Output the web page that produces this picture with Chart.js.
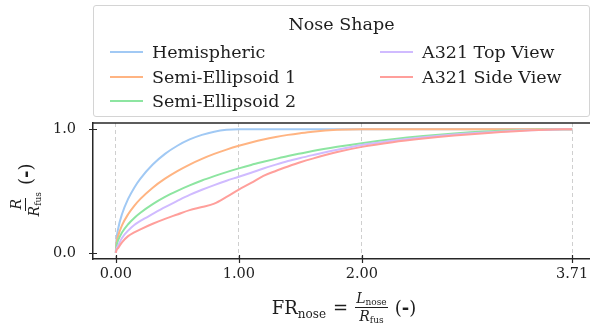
<!DOCTYPE html>
<html>
<head>
<meta charset="utf-8">
<script src="https://cdn.jsdelivr.net/npm/chart.js@4.4.0/dist/chart.umd.min.js"></script>
<style>
  html, body { margin: 0; padding: 0; background: #fff; overflow: hidden; width: 590px; height: 330px; }
  #wrap { position: relative; width: 600px; height: 330px; }
  #plot { position: absolute; left: 0; top: 0; }
  .serif { font-family: "DejaVu Serif", serif; color: #1e1e1e; }
  #legendBox { position: absolute; left: 93px; top: 5px; width: 497px; height: 112px; box-sizing: border-box;
               border: 1.5px solid #d4d4d4; border-radius: 3px; background: #fff; }
  #legendTitle { position: absolute; left: 93px; width: 497px; top: 12px; text-align: center; font-size: 17.5px; line-height: 24px; white-space: nowrap; }
  .item { position: absolute; height: 24px; line-height: 24px; font-size: 17.5px; white-space: nowrap; }
  .item .swatch { position: absolute; left: 0; top: 11px; width: 33px; height: 2px; }
  .item .txt { position: absolute; left: 42px; top: 0; }
  .frac { display: inline-flex; flex-direction: column; align-items: center; vertical-align: middle; font-size: 14px; line-height: 15px; }
  .frac .num { padding: 0 1px 1px 1px; border-bottom: 1px solid #1e1e1e; }
  .frac .den { padding-top: 1px; }
  .frac sub { font-size: 9px; vertical-align: -2px; line-height: 0; }
  #xTitle { position: absolute; left: 194px; width: 300px; top: 291px; height: 32px; display: flex; justify-content: center; align-items: center; font-size: 18px; white-space: nowrap; }
  #xTitle .big sub { font-size: 12px; vertical-align: -4px; line-height: 0; }
  #yTitle { position: absolute; left: -45px; top: 170px; width: 140px; height: 40px; display: flex; justify-content: center; align-items: center;
            font-size: 18px; white-space: nowrap; transform: rotate(-90deg); transform-origin: 50% 50%; }
  .sp { display: inline-block; width: 7px; }
</style>
</head>
<body>
<div id="wrap">
  <canvas id="plot" width="600" height="330"></canvas>
  <div id="legendBox"></div>
  <div id="legendTitle" class="serif">Nose Shape</div>
  <div id="legendItems"></div>
  <div id="xTitle" class="serif">
    <span class="big">FR<sub>nose</sub></span><span class="sp"></span>=<span class="sp"></span>
    <span class="frac"><span class="num"><i>L</i><sub>nose</sub></span><span class="den"><i>R</i><sub>fus</sub></span></span>
    <span class="sp"></span>(<b>-</b>)
  </div>
  <div id="yTitle" class="serif">
    <span class="frac"><span class="num"><i>R</i></span><span class="den"><i>R</i><sub>fus</sub></span></span>
    <span class="sp"></span>(<b>-</b>)
  </div>
</div>
<script>
// Nose fineness ratio FR = L_nose / R_fus (x positions of the profile samples)
const noseRatio = [0, 0.005, 0.02, 0.05, 0.1, 0.15, 0.2, 0.3, 0.4, 0.5,
                   0.6, 0.7, 0.8, 0.9, 1.0, 1.1, 1.2, 1.3, 1.4, 1.5,
                   1.6, 1.8, 2.0, 2.25, 2.5, 2.75, 3.0, 3.25, 3.5, 3.71];

// Local radius R / R_fus for each nose shape
const hemispheric = [0, 0.100, 0.199, 0.312, 0.436, 0.527, 0.600, 0.714, 0.800, 0.866,
                     0.917, 0.954, 0.980, 0.995, 1, 1, 1, 1, 1, 1,
                     1, 1, 1, 1, 1, 1, 1, 1, 1, 1];
const semiEllipsoid1 = [0, 0.071, 0.141, 0.222, 0.312, 0.380, 0.436, 0.527, 0.600, 0.661,
                        0.714, 0.760, 0.800, 0.835, 0.866, 0.893, 0.917, 0.937, 0.954, 0.968,
                        0.980, 0.995, 1, 1, 1, 1, 1, 1, 1, 1];
const semiEllipsoid2 = [0, 0.052, 0.104, 0.164, 0.231, 0.282, 0.324, 0.394, 0.452, 0.501,
                        0.545, 0.585, 0.620, 0.653, 0.683, 0.711, 0.736, 0.760, 0.783, 0.803,
                        0.823, 0.857, 0.887, 0.919, 0.945, 0.966, 0.982, 0.992, 0.998, 1.0];
const a321TopView = [0, 0.030, 0.060, 0.120, 0.180, 0.225, 0.258, 0.315, 0.370, 0.420,
                     0.468, 0.510, 0.548, 0.583, 0.615, 0.648, 0.682, 0.713, 0.742, 0.767,
                     0.790, 0.834, 0.872, 0.906, 0.934, 0.957, 0.974, 0.987, 0.996, 1.0];
const a321SideView = [0, 0.020, 0.040, 0.085, 0.135, 0.165, 0.190, 0.235, 0.275, 0.310,
                      0.345, 0.370, 0.398, 0.452, 0.512, 0.565, 0.622, 0.662, 0.698, 0.732,
                      0.762, 0.815, 0.857, 0.895, 0.924, 0.948, 0.968, 0.984, 0.995, 1.0];

const seriesNames = ['Hemispheric', 'Semi-Ellipsoid 1', 'Semi-Ellipsoid 2', 'A321 Top View', 'A321 Side View'];
const seriesValues = [hemispheric, semiEllipsoid1, semiEllipsoid2, a321TopView, a321SideView];
const seriesColors = ['#a1c9f4', '#ffb482', '#8de5a1', '#d0bbff', '#ff9f9b'];

const xTickValues = [0, 1, 2, 3.71];
const yTickValues = [0, 1];

const X_MIN = -0.1855, X_MAX = 3.8955;
const Y_MIN = -0.05, Y_MAX = 1.05;
const FONT = '"DejaVu Serif", serif';
const SPINE = '#262626';

// top spine and in/out tick marks
const framePlugin = {
  id: 'frame',
  afterDraw(chart) {
    const { ctx, chartArea: a, scales: { x, y } } = chart;
    ctx.save();
    ctx.setLineDash([]);
    ctx.strokeStyle = SPINE;
    ctx.lineWidth = 1.5;
    ctx.beginPath();
    ctx.moveTo(a.left - 0.75, a.top);
    ctx.lineTo(a.right + 10, a.top);
    ctx.stroke();
    ctx.lineWidth = 1.2;
    ctx.beginPath();
    xTickValues.forEach(v => {
      const px = Math.round(x.getPixelForValue(v)) + 0.5;
      ctx.moveTo(px, a.bottom - 4);
      ctx.lineTo(px, a.bottom + 4);
    });
    yTickValues.forEach(v => {
      const py = Math.round(y.getPixelForValue(v)) + 0.5;
      ctx.moveTo(a.left - 4, py);
      ctx.lineTo(a.left + 4, py);
    });
    ctx.stroke();
    ctx.restore();
  }
};

const chart = new Chart(document.getElementById('plot'), {
  type: 'line',
  data: {
    datasets: seriesNames.map((name, i) => ({
      label: name,
      data: noseRatio.map((fr, k) => ({ x: fr, y: seriesValues[i][k] })),
      borderColor: seriesColors[i],
      backgroundColor: seriesColors[i],
      borderWidth: 2,
      pointRadius: 0,
      fill: false,
      cubicInterpolationMode: 'monotone',
      order: seriesNames.length - 1 - i
    }))
  },
  options: {
    responsive: false,
    animation: false,
    devicePixelRatio: 1,
    layout: { padding: { top: 123, right: 5, left: 0, bottom: 0 } },
    plugins: { legend: { display: false }, tooltip: { enabled: false } },
    scales: {
      x: {
        type: 'linear',
        min: X_MIN, max: X_MAX,
        afterBuildTicks: s => { s.ticks = xTickValues.map(v => ({ value: v })); },
        afterFit: s => { s.height = 71; },
        ticks: {
          callback: v => Number(v).toFixed(2),
          font: { family: FONT, size: 14.5 },
          color: '#1e1e1e',
          padding: 7,
          maxRotation: 0,
          autoSkip: false
        },
        // dashed vertical grid lines at each tick
        grid: { display: true, drawTicks: false, color: '#cfcfcf', lineWidth: 1 },
        border: { display: true, color: SPINE, width: 1.5, dash: [4, 3] }
      },
      y: {
        type: 'linear',
        min: Y_MIN, max: Y_MAX,
        afterBuildTicks: s => { s.ticks = yTickValues.map(v => ({ value: v })); },
        afterFit: s => { s.width = 93; },
        ticks: {
          callback: v => Number(v).toFixed(1),
          font: { family: FONT, size: 14.5 },
          color: '#1e1e1e',
          padding: 9
        },
        grid: { display: false },
        border: { display: true, color: SPINE, width: 1.5 }
      }
    }
  },
  plugins: [framePlugin]
});

// legend entries, three per column
const legendEl = document.getElementById('legendItems');
const colLeft = [110, 380];
const rowTop = [40, 65, 89];
chart.data.datasets.forEach((ds, i) => {
  const col = i < 3 ? 0 : 1;
  const row = i < 3 ? i : i - 3;
  const item = document.createElement('div');
  item.className = 'item serif';
  item.style.left = colLeft[col] + 'px';
  item.style.top = rowTop[row] + 'px';
  const sw = document.createElement('span');
  sw.className = 'swatch';
  sw.style.background = ds.borderColor;
  const tx = document.createElement('span');
  tx.className = 'txt';
  tx.textContent = ds.label;
  item.appendChild(sw);
  item.appendChild(tx);
  legendEl.appendChild(item);
});
</script>
</body>
</html>
